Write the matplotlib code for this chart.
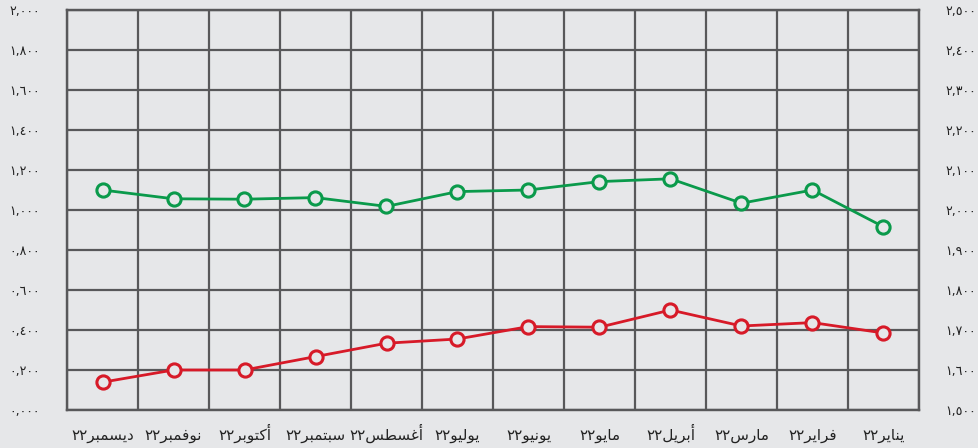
import matplotlib
matplotlib.use("Agg")
import matplotlib.pyplot as plt
from matplotlib.ticker import FixedLocator, FuncFormatter

# ---------------- data ----------------
months = ["يناير٢٢", "فراير٢٢", "مارس٢٢", "أبريل٢٢", "مايو٢٢", "يونيو٢٢",
          "يوليو٢٢", "أغسطس٢٢", "سبتمبر٢٢", "أكتوبر٢٢", "نوفمبر٢٢", "ديسمبر٢٢"]
green_values = [1958, 2050, 2017, 2078, 2071, 2050, 2046, 2009, 2031, 2027, 2028, 2050]  # right axis
red_values = [385, 437, 420, 500, 414, 417, 355, 334, 267, 200, 200, 139]              # left axis
left_ticks = list(range(0, 2001, 200))
right_ticks = list(range(1500, 2501, 100))

# ---------------- Arabic shaping (presentation forms, visual order) ----------------
FORMS = {  # isolated, final, initial, medial
    'ا': ('\uFE8D', '\uFE8E', None, None),
    'أ': ('\uFE83', '\uFE84', None, None),
    'ب': ('\uFE8F', '\uFE90', '\uFE91', '\uFE92'),
    'ت': ('\uFE95', '\uFE96', '\uFE97', '\uFE98'),
    'د': ('\uFEA9', '\uFEAA', None, None),
    'ر': ('\uFEAD', '\uFEAE', None, None),
    'س': ('\uFEB1', '\uFEB2', '\uFEB3', '\uFEB4'),
    'ط': ('\uFEC1', '\uFEC2', '\uFEC3', '\uFEC4'),
    'غ': ('\uFECD', '\uFECE', '\uFECF', '\uFED0'),
    'ف': ('\uFED1', '\uFED2', '\uFED3', '\uFED4'),
    'ك': ('\uFED9', '\uFEDA', '\uFEDB', '\uFEDC'),
    'ل': ('\uFEDD', '\uFEDE', '\uFEDF', '\uFEE0'),
    'م': ('\uFEE1', '\uFEE2', '\uFEE3', '\uFEE4'),
    'ن': ('\uFEE5', '\uFEE6', '\uFEE7', '\uFEE8'),
    'و': ('\uFEED', '\uFEEE', None, None),
    'ي': ('\uFEF1', '\uFEF2', '\uFEF3', '\uFEF4'),
}


def shape_word(word):
    out = []
    n = len(word)
    for i, ch in enumerate(word):
        f = FORMS[ch]
        prev_joins = i > 0 and FORMS[word[i - 1]][2] is not None
        next_joins = f[2] is not None and i < n - 1
        if prev_joins and next_joins:
            out.append(f[3])
        elif prev_joins:
            out.append(f[1])
        elif next_joins:
            out.append(f[2])
        else:
            out.append(f[0])
    return ''.join(reversed(out))


def visual(text):
    runs = []
    for ch in text:
        is_letter = ch in FORMS
        if runs and runs[-1][0] == is_letter:
            runs[-1][1] += ch
        else:
            runs.append([is_letter, ch])
    parts = [shape_word(s) if l else s for l, s in runs]
    return ''.join(reversed(parts))


DIG = str.maketrans('0123456789', '٠١٢٣٤٥٦٧٨٩')


def ar_num(v, pos=None):
    return format(int(round(v)), '05,').translate(DIG)


# ---------------- figure ----------------
BG = '#E6E7E9'
GRID = '#58585A'
GREEN = '#0A9A4B'
RED = '#D71A28'
TXT = '#222222'
PX = 72 / 100  # points per pixel

plt.rcParams['font.family'] = ['DejaVu Sans']
fig = plt.figure(figsize=(9.79, 4.48), dpi=100, facecolor=BG)
ax = fig.add_axes([67 / 979, 38 / 448, 852 / 979, 400 / 448])
ax.set_facecolor(BG)
ax2 = ax.twinx()

x = list(range(len(months)))
ax.set_xlim(-0.5, len(months) - 0.5)
ax.invert_xaxis()

ax.set_ylim(left_ticks[0], left_ticks[-1])
ax2.set_ylim(right_ticks[0], right_ticks[-1])
ax.yaxis.set_major_locator(FixedLocator(left_ticks))
ax2.yaxis.set_major_locator(FixedLocator(right_ticks))
ax.yaxis.set_major_formatter(FuncFormatter(ar_num))
ax2.yaxis.set_major_formatter(FuncFormatter(ar_num))

ax.set_xticks(x)
ax.set_xticklabels([visual(m) for m in months], fontsize=11, color=TXT,
                   verticalalignment='baseline')
ax.xaxis.set_minor_locator(FixedLocator([i + 0.5 for i in range(-1, len(months))]))

ax.grid(True, which='minor', axis='x', color=GRID, linewidth=1.6)
ax.grid(True, which='major', axis='y', color=GRID, linewidth=1.6)
ax.grid(False, which='major', axis='x')
ax.set_axisbelow(True)

for a in (ax, ax2):
    for s in a.spines.values():
        s.set_color(GRID)
        s.set_linewidth(1.6)
    a.tick_params(which='both', length=0)

ax.tick_params(axis='y', labelsize=9, colors=TXT, pad=27 * PX)
ax2.tick_params(axis='y', labelsize=9, colors=TXT, pad=26 * PX)
ax.tick_params(axis='x', pad=30 * PX)
for lbl in ax.get_yticklabels():
    lbl.set_horizontalalignment('right')

ax.plot(x, red_values, color=RED, linewidth=2.0, marker='o', markersize=9.5,
        markerfacecolor=BG, markeredgecolor=RED, markeredgewidth=2.2, zorder=5,
        clip_on=False)
ax2.plot(x, green_values, color=GREEN, linewidth=2.0, marker='o', markersize=9.5,
         markerfacecolor=BG, markeredgecolor=GREEN, markeredgewidth=2.2, zorder=5,
         clip_on=False)

fig.savefig('out.png', dpi=100, facecolor=BG)
